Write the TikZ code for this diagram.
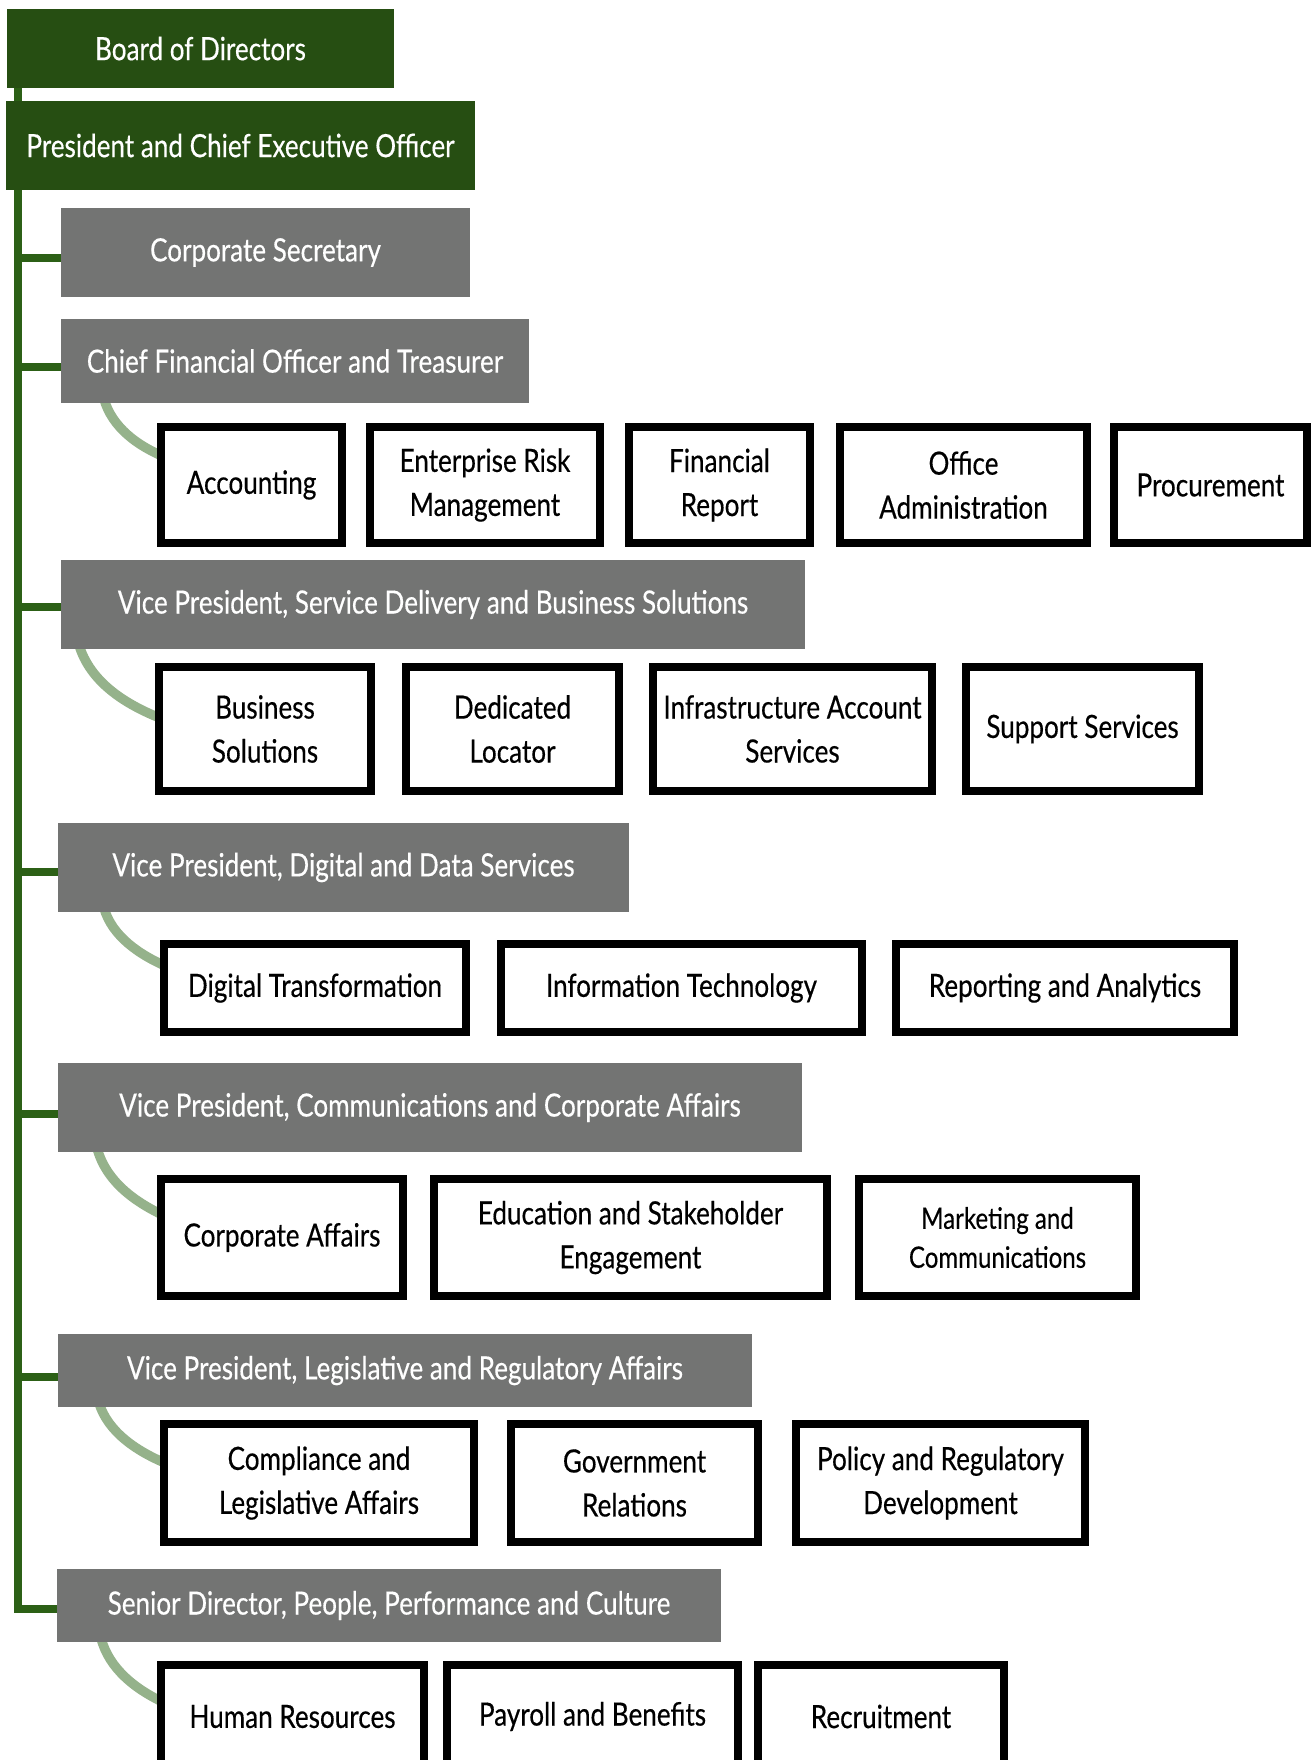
\documentclass[tikz,border=0pt]{standalone}
\usepackage{fontspec}
\setmainfont{Lato}[FakeStretch=0.815,FakeBold=0.4]
\usetikzlibrary{backgrounds}
\definecolor{dgreen}{RGB}{38,78,18}
\definecolor{tgreen}{RGB}{44,96,22}
\definecolor{gbox}{RGB}{115,116,115}
\definecolor{lgreen}{RGB}{149,178,139}
\newcommand\bigf{\fontsize{32}{44}\selectfont}
\newcommand\smallf{\fontsize{29.5}{39}\selectfont}
\begin{document}
\begin{tikzpicture}[x=1pt,y=-1pt,
  greenbox/.style={fill=dgreen,text=white,inner sep=0pt,outer sep=0pt,font=\bigf},
  graybox/.style={fill=gbox,text=white,inner sep=0pt,outer sep=0pt,font=\bigf},
  wbox/.style={draw=black,line width=8pt,fill=white,text=black,inner sep=0pt,align=center,font=\bigf},
  trunk/.style={draw=tgreen,line width=8pt},
  arcline/.style={draw=lgreen,line width=9.5pt}]
\useasboundingbox (0,0) rectangle (1310,1760);

% top
\node[greenbox,minimum width=387pt,minimum height=79pt] (board) at (200.5,48.5) {Board of Directors};
\coordinate (tk) at ([xshift=11pt]board.south west);
\node[greenbox,minimum width=469pt,minimum height=89pt] (ceo) at (240.5,145.5) {President and Chief Executive Officer};

% gray boxes
\node[graybox,minimum width=409pt,minimum height=89pt] (cs) at (265.5,252.5) {Corporate Secretary};
\node[graybox,minimum width=468pt,minimum height=84pt] (cfo) at (295,361) {Chief Financial Officer and Treasurer};
\node[graybox,minimum width=744pt,minimum height=89pt] (sds) at (433,604.5) {Vice President, Service Delivery and Business Solutions};
\node[graybox,minimum width=571pt,minimum height=89pt] (dds) at (343.5,867.5) {Vice President, Digital and Data Services};
\node[graybox,minimum width=744pt,minimum height=89pt] (cca) at (430,1107.5) {Vice President, Communications and Corporate Affairs};
\node[graybox,minimum width=694pt,minimum height=73pt] (lra) at (405,1370.5) {Vice President, Legislative and Regulatory Affairs};
\node[graybox,minimum width=664pt,minimum height=73pt] (sd) at (389,1605.5) {Senior Director, People, Performance and Culture};

% row 1
\node[wbox,minimum width=181pt,minimum height=116pt] (acc) at (251.5,485) {Accounting};
\node[wbox,minimum width=230pt,minimum height=116pt] (erm) at (485,485) {Enterprise Risk\\Management};
\node[wbox,minimum width=181pt,minimum height=116pt] (fr) at (719.5,485) {Financial\\Report};
\node[wbox,minimum width=247pt,minimum height=116pt] (oa) at (963.5,485) {Office\\Administration};
\node[wbox,minimum width=193pt,minimum height=116pt] (proc) at (1210.5,485) {Procurement};
% row 2
\node[wbox,minimum width=212pt,minimum height=124pt] (bs) at (265,729) {Business\\Solutions};
\node[wbox,minimum width=213pt,minimum height=124pt] (dl) at (512.5,729) {Dedicated\\Locator};
\node[wbox,minimum width=279pt,minimum height=124pt] (ias) at (792.5,729) {Infrastructure Account\\Services};
\node[wbox,minimum width=233pt,minimum height=124pt] (ss) at (1082.5,729) {Support Services};
% row 3
\node[wbox,minimum width=302pt,minimum height=88pt] (dt) at (315,988) {Digital Transformation};
\node[wbox,minimum width=361pt,minimum height=88pt] (it) at (681.5,988) {Information Technology};
\node[wbox,minimum width=338pt,minimum height=88pt] (ra) at (1065,988) {Reporting and Analytics};
% row 4
\node[wbox,minimum width=242pt,minimum height=117pt] (ca) at (282,1237.5) {Corporate Affairs};
\node[wbox,minimum width=393pt,minimum height=117pt] (edu) at (630.5,1237.5) {Education and Stakeholder\\Engagement};
\node[wbox,minimum width=277pt,minimum height=117pt,font=\smallf] (mkt) at (997.5,1237.5) {Marketing and\\Communications};
% row 5
\node[wbox,minimum width=310pt,minimum height=118pt] (cla) at (319,1483) {Compliance and\\Legislative Affairs};
\node[wbox,minimum width=247pt,minimum height=118pt] (gr) at (634.5,1483) {Government\\Relations};
\node[wbox,minimum width=289pt,minimum height=118pt] (prd) at (940.5,1483) {Policy and Regulatory\\Development};
% row 6
\node[wbox,minimum width=263pt,minimum height=103pt] (hr) at (292.5,1716.5) {Human Resources};
\node[wbox,minimum width=291pt,minimum height=103pt] (pb) at (592.5,1716.5) {Payroll and Benefits};
\node[wbox,minimum width=246pt,minimum height=103pt] (rec) at (881,1716.5) {Recruitment};

\begin{scope}[on background layer]
\fill[white] (0,0) rectangle (1310,1760);
% trunk
\draw[trunk] (tk) |- ([yshift=-3.5pt]sd.west);
% stubs
\path ([yshift=-5.5pt]cs.west) coordinate (s1);
\path ([yshift=-6pt]cfo.west) coordinate (s2);
\path ([yshift=-2.5pt]sds.west) coordinate (s3);
\path ([yshift=-4.5pt]dds.west) coordinate (s4);
\path ([yshift=-6.5pt]cca.west) coordinate (s5);
\path ([yshift=-6.5pt]lra.west) coordinate (s6);
\draw[trunk] (s1) -- (s1 -| tk);
\draw[trunk] (s2) -- (s2 -| tk);
\draw[trunk] (s3) -- (s3 -| tk);
\draw[trunk] (s4) -- (s4 -| tk);
\draw[trunk] (s5) -- (s5 -| tk);
\draw[trunk] (s6) -- (s6 -| tk);
% arcs
\draw[arcline] ([xshift=43pt,yshift=4pt]cfo.south west) .. controls +(8,28) and +(-30,-12) .. ([xshift=10pt,yshift=27pt]acc.west);
\draw[arcline] ([xshift=18pt,yshift=4pt]sds.south west) .. controls +(11,36) and +(-42,-16) .. ([xshift=10pt,yshift=9pt]bs.west);
\draw[arcline] ([xshift=46pt,yshift=4pt]dds.south west) .. controls +(8,28) and +(-31,-13) .. ([xshift=10pt,yshift=20pt]dt.west);
\draw[arcline] ([xshift=39pt,yshift=4pt]cca.south west) .. controls +(9,33) and +(-33,-15) .. ([xshift=10pt,yshift=20.5pt]ca.west);
\draw[arcline] ([xshift=41pt,yshift=4pt]lra.south west) .. controls +(9,29) and +(-33,-13) .. ([xshift=10pt,yshift=18pt]cla.west);
\draw[arcline] ([xshift=44pt,yshift=4pt]sd.south west) .. controls +(8,31) and +(-31,-14) .. ([xshift=10pt,yshift=12.5pt]hr.west);
\end{scope}
\end{tikzpicture}
\end{document}
